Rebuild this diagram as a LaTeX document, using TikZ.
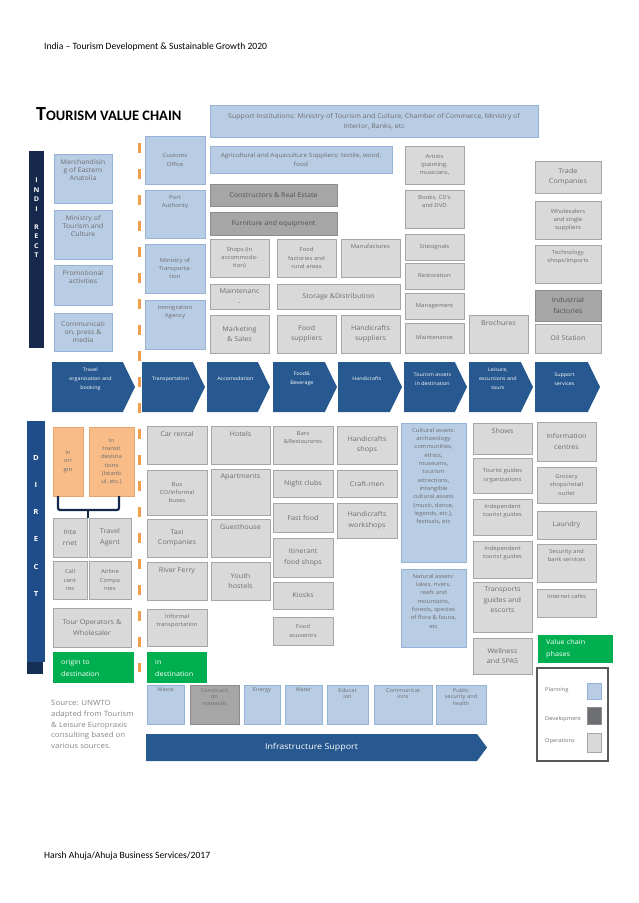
\documentclass[tikz,border=0pt]{standalone}
\usepackage{fontspec}
\setmainfont{Carlito}
\newfontfamily\dgfont[FakeStretch=1.1]{Open Sans}
\usetikzlibrary{shapes.symbols, positioning}

\definecolor{planfill}{HTML}{B8CCE4}
\definecolor{planline}{HTML}{95B3D7}
\definecolor{opfill}{HTML}{D9D9D9}
\definecolor{opline}{HTML}{A6A6A6}
\definecolor{devfill}{HTML}{A6A6A6}
\definecolor{devline}{HTML}{8C8C8C}
\definecolor{devtext}{HTML}{525252}
\definecolor{devswatch}{HTML}{6E6F73}
\definecolor{origfill}{HTML}{F8BC88}
\definecolor{origline}{HTML}{E8A46C}
\definecolor{chevblue}{HTML}{27588F}
\definecolor{indnavy}{HTML}{16294C}
\definecolor{dirblue}{HTML}{1F4D8A}
\definecolor{dirfoot}{HTML}{152F55}
\definecolor{phasegreen}{HTML}{00B050}
\definecolor{dashorange}{HTML}{EE9D4E}
\definecolor{txtgray}{HTML}{6E6E6E}
\definecolor{srcgray}{HTML}{858585}
\definecolor{legline}{HTML}{595959}

\newcommand{\cellfont}{\dgfont\fontsize{5.5}{8.3}\selectfont}
\newcommand{\cellfontw}{\dgfont\fontsize{6.4}{8}\selectfont}
\newcommand{\cellfontm}{\dgfont\fontsize{6.6}{10.5}\selectfont}
\newcommand{\cellfontl}{\dgfont\fontsize{6.5}{9}\selectfont}
\newcommand{\cellfontt}{\dgfont\fontsize{5.2}{6.8}\selectfont}
\newcommand{\chevfont}{\dgfont\fontsize{4.9}{8.8}\selectfont}
\newcommand{\phasefont}{\dgfont\fontsize{6.6}{12}\selectfont}

\begin{document}
\begin{tikzpicture}[x=1pt, y=-1pt,
    cell/.style={draw, anchor=north west, inner sep=0pt, outer sep=0pt, line width=0.7pt, align=center, text=txtgray, font=\cellfont},
    plan/.style={cell, fill=planfill, draw=planline},
    dev/.style={cell, fill=devfill, draw=devline, text=devtext},
    oper/.style={cell, fill=opfill, draw=opline},
    orig/.style={cell, fill=origfill, draw=origline},
    md/.style={font=\cellfontm},
    lg/.style={font=\cellfontl},
    toptext/.style={anchor=north, yshift=-5pt, align=center, inner sep=0pt, text=txtgray, font=\cellfont},
    txt/.style={label={[toptext]north:{#1}}},
    txtw/.style={label={[toptext, font=\cellfontw]north:{#1}}},
    txtm/.style={label={[toptext, font=\cellfontm]north:{#1}}},
    txtt/.style={label={[toptext, yshift=2pt, font=\cellfontt]north:{#1}}},
    chev/.style={signal, signal to=east, signal pointer angle=128, fill=chevblue, anchor=west, minimum height=50pt, inner sep=0pt, outer sep=0pt},
    chevtxt/.style={label={[anchor=center, yshift=-17pt, xshift=3pt, align=center, text=white, font=\chevfont, inner sep=0pt]north:{#1}}},
    bartxt/.style={text=white, align=center, inner sep=0pt, font=\bfseries},
    phase/.style={anchor=north west, fill=phasegreen, text=white, font=\phasefont, align=left, inner xsep=8pt, inner ysep=0pt},
    divider/.style={draw=dashorange, line width=3pt, dash pattern=on 10pt off 16pt},
    bracket/.style={draw=indnavy, line width=2.2pt, rounded corners=2pt}
]
\fill[white] (0,0) rectangle (638,903);
\useasboundingbox (0,0) rectangle (638,903);

% page header, title and footer
\node (head) [anchor=west, inner sep=0pt, font=\fontsize{9.6}{11}\selectfont] at (44,47) {India – Tourism Development \& Sustainable Growth 2020};
\node (title) [anchor=base west, inner sep=0pt, font=\bfseries] at (36,120) {\fontsize{20}{20}\selectfont T\fontsize{14.5}{15}\selectfont OURISM VALUE CHAIN};
\node (foot) [anchor=west, inner sep=0pt, font=\fontsize{9.6}{11}\selectfont] at (44,856) {Harsh Ahuja/Ahuja Business Services/2017};

% indirect side bar
\node (indbar) [fill=indnavy, anchor=north west, minimum width=15, minimum height=197, inner sep=0pt] at (29,151) {};
\node (indtxt) [bartxt, anchor=north, font=\dgfont\bfseries\fontsize{6.5}{9.5}\selectfont] at (36.5,178) {I\\N\\D\\I\\[8.5pt]R\\E\\C\\T};

% orange divider
\coordinate (dtop) at (139,143);
\coordinate (dbot) at (139,672);
\draw[divider] (dtop) -- (dbot);

% indirect: planning column
\node (merch) [plan, minimum width=58, minimum height=49, txtw={Merchandisin\\g of Eastern\\Anatolia}] at (54,154) {};
\node (mintour) [plan, minimum width=58, minimum height=49, txtw={Ministry of\\Tourism and\\Culture}] at (54,210) {};
\node (promo) [plan, minimum width=58, minimum height=40, txtw={Promotional\\activities}] at (54,265) {};
\node (comm) [plan, font=\cellfontw, minimum width=58, minimum height=38] at (54,313) {Communicati\\on, press \&\\media};

\node (customs) [plan, minimum width=60, minimum height=48] at (145,136) {Customs\\Office};
\node (port) [plan, minimum width=60, minimum height=48, txt={Port\\Authority}] at (145,190) {};
\node (mintrans) [plan, minimum width=60, minimum height=49] at (145,244) {Ministry of\\Transporta-\\tion};
\node (immig) [plan, minimum width=60, minimum height=49, txt={Immigration\\Agency}] at (145,300) {};

% suppliers
\node (supinst) [plan, font=\dgfont\fontsize{6.4}{10}\selectfont, minimum width=328, minimum height=32] at (210,105) {Support Institutions: Ministry of Tourism and Culture, Chamber of Commerce, Ministry of\\Interior, Banks, etc};
\node (agri) [plan, font=\dgfont\fontsize{5.9}{9}\selectfont, minimum width=182, minimum height=27] at (210,146) {Agricultural and Aquaculture Suppliers: textile, wood,\\food};
\node (constr) [dev, lg, minimum width=127, minimum height=22] at (210,184) {Constructors \& Real Estate};
\node (furn) [dev, lg, minimum width=127, minimum height=23] at (210,212) {Furniture and equipment};
\node (shops) [oper, minimum width=59, minimum height=38] at (210,239) {Shops (in\\accommoda-\\tion)};
\node (foodfac) [oper, minimum width=59, minimum height=38] at (277,239) {Food\\factories and\\rural areas};
\node (manuf) [oper, minimum width=59, minimum height=38, txt={Manufactures}] at (341,239) {};
\node (maint) [oper, md, minimum width=59, minimum height=25] at (210,284) {Maintenanc\\-};
\node (storage) [oper, lg, minimum width=123, minimum height=25] at (277,284) {Storage \&Distribution};
\node (mkt) [oper, md, minimum width=59, minimum height=38] at (210,315) {Marketing\\\& Sales};
\node (foodsup) [oper, md, minimum width=59, minimum height=38] at (277,315) {Food\\suppliers};
\node (hcsup) [oper, md, minimum width=59, minimum height=38] at (341,315) {Handicrafts\\suppliers};

\node (artists) [oper, minimum width=59, minimum height=38] at (405,146) {Artists\\(painting,\\musicians,};
\node (books) [oper, minimum width=59, minimum height=38, txt={Books, CD's\\and DVD}] at (405,190) {};
\node (sitesig) [oper, minimum width=59, minimum height=26] at (405,234) {Sitesignals};
\node (restor) [oper, minimum width=59, minimum height=26] at (405,263) {Restoration};
\node (mgmt) [oper, minimum width=59, minimum height=26] at (405,293) {Management};
\node (maintc) [oper, minimum width=59, minimum height=30] at (405,323) {Maintenance};
\node (broch) [oper, md, minimum width=59, minimum height=38, txtm={Brochures}] at (469,315) {};

\node (trade) [oper, md, minimum width=66, minimum height=32] at (535,161) {Trade\\Companies};
\node (whole) [oper, minimum width=66, minimum height=38] at (535,201) {Wholesalers\\and single\\suppliers};
\node (tech) [oper, minimum width=66, minimum height=38, txt={Technology\\shops/imports}] at (535,245) {};
\node (indus) [dev, md, minimum width=66, minimum height=31] at (535,290) {Industrial\\factories};
\node (oil) [oper, md, minimum width=66, minimum height=29] at (535,324) {Oil Station};

% value chain phases
\node (cvtravel) [chev, minimum width=83, chevtxt={Travel\\organisation and\\booking}] at (52,387) {};
\node (cvtrans) [chev, minimum width=63, chevtxt={Transportation}] at (142,387) {};
\node (cvaccom) [chev, minimum width=63, chevtxt={Accomodation}] at (207,387) {};
\node (cvfood) [chev, minimum width=64, chevtxt={Food\&\\Beverage}] at (273,387) {};
\node (cvhandi) [chev, minimum width=64, chevtxt={Handicrafts}] at (338,387) {};
\node (cvassets) [chev, minimum width=63, chevtxt={Tourism assets\\in destination}] at (404,387) {};
\node (cvleis) [chev, minimum width=64, chevtxt={Leisure,\\excursions and\\tours}] at (469,387) {};
\node (cvsupp) [chev, minimum width=65, chevtxt={Support\\services}] at (535,387) {};

% direct side bar
\node (dirbar) [fill=dirblue, anchor=north west, minimum width=18, minimum height=241, inner sep=0pt] at (27,421) {};
\node (dirbase) [fill=dirfoot, anchor=north west, minimum width=16, minimum height=12, inner sep=0pt] at (27,662) {};
\node (dirtxt) [bartxt, anchor=north, font=\dgfont\bfseries\fontsize{7}{27.2}\selectfont] at (36,455) {D\\I\\R\\E\\C\\T};

% direct: origin to destination
\node (inorig) [orig, minimum width=30, minimum height=69] at (53,427) {In\\ori\\gin};
\node (intrans) [orig, minimum width=45, minimum height=69] at (89,427) {In\\transit\\destina\\tions\\(Istanb\\ul, etc.)};
\coordinate (brkmid) at (88,510);
\draw[bracket] ([xshift=-10pt]inorig.south) |- (brkmid) -| ([xshift=7.5pt]intrans.south);
\node (inet) [oper, md, minimum width=34, minimum height=39] at (53,518) {Inte\\rnet};
\node (agent) [oper, md, minimum width=42, minimum height=39] at (89,518) {Travel\\Agent};
\draw[bracket] (brkmid) -- (brkmid |- agent.north);
\node (callc) [oper, minimum width=34, minimum height=38] at (53,561) {Call\\cent\\res};
\node (airl) [oper, minimum width=42, minimum height=38] at (89,561) {Airline\\Compa\\nies};
\node (tourop) [oper, md, minimum width=78, minimum height=39] at (53,608) {Tour Operators \&\\Wholesaler};
\node (ph1) [phase, text width=65, minimum height=31] at (53,652) {origin to\\destination};

% direct: in destination
\node (carr) [oper, md, minimum width=60, minimum height=38, txtm={Car rental}] at (147,426) {};
\node (bus) [oper, minimum width=60, minimum height=45] at (147,470) {Bus\\CO/Informal\\buses};
\node (taxi) [oper, md, minimum width=60, minimum height=38] at (147,519) {Taxi\\Companies};
\node (ferry) [oper, md, minimum width=60, minimum height=38, txtm={River Ferry}] at (147,562) {};
\node (informal) [oper, minimum width=60, minimum height=37, txt={Informal\\transportation}] at (147,609) {};
\node (ph2) [phase, text width=44, minimum height=31] at (147,652) {in\\destination};

\node (hotels) [oper, md, minimum width=59, minimum height=38, txtm={Hotels}] at (211,426) {};
\node (apart) [oper, md, minimum width=59, minimum height=46, txtm={Apartments}] at (211,469) {};
\node (guest) [oper, md, minimum width=59, minimum height=38, txtm={Guesthouse}] at (211,519) {};
\node (youth) [oper, md, minimum width=59, minimum height=38] at (211,562) {Youth\\hostels};

\node (bars) [oper, minimum width=60, minimum height=38, txt={Bars\\\&Restaurants}] at (273,426) {};
\node (night) [oper, md, minimum width=60, minimum height=27] at (273,470) {Night clubs};
\node (fast) [oper, md, minimum width=60, minimum height=29] at (273,503) {Fast food};
\node (itin) [oper, md, minimum width=60, minimum height=39] at (273,538) {Itinerant\\food shops};
\node (kiosk) [oper, md, minimum width=60, minimum height=27] at (273,582) {Kiosks};
\node (fsouv) [oper, minimum width=60, minimum height=28] at (273,617) {Food\\souvenirs};

\node (hcshop) [oper, md, minimum width=60, minimum height=38] at (337,426) {Handicrafts\\shops};
\node (craft) [oper, md, minimum width=60, minimum height=27] at (337,470) {Craft-men};
\node (hcwork) [oper, md, minimum width=60, minimum height=35] at (337,503) {Handicrafts\\workshops};

\node (cult) [plan, minimum width=65, minimum height=139, txt={Cultural assets:\\archaeology\\communities,\\ethics,\\museums,\\tourism\\attractions,\\intangible\\cultural assets\\(music, dance,\\legends, etc.),\\festivals, etc}] at (401,423) {};
\node (natur) [plan, minimum width=65, minimum height=78, txt={Natural assets:\\lakes, rivers,\\reefs and\\mountains,\\forests, species\\of flora \& fauna,\\etc}] at (401,569) {};

\node (shows) [oper, md, minimum width=59, minimum height=31, txtm={Shows}] at (473,423) {};
\node (tgorg) [oper, minimum width=59, minimum height=35] at (473,458) {Tourist guides\\organizations};
\node (indep1) [oper, minimum width=59, minimum height=36, txt={Independent\\tourist guides}] at (473,499) {};
\node (indep2) [oper, minimum width=59, minimum height=37, txt={Independent\\tourist guides}] at (473,541) {};
\node (transg) [oper, md, minimum width=59, minimum height=50, txtm={Transports\\guides and\\escorts}] at (473,582) {};
\node (well) [oper, md, minimum width=59, minimum height=36] at (473,638) {Wellness\\and SPAS};

\node (infoc) [oper, md, minimum width=59, minimum height=39] at (537,422) {Information\\centres};
\node (groc) [oper, minimum width=59, minimum height=36] at (537,467) {Grocery\\shops/retail\\outlet};
\node (laund) [oper, md, minimum width=59, minimum height=28] at (537,511) {Laundry};
\node (secur) [oper, minimum width=59, minimum height=38, txt={Security and\\bank services}] at (537,544) {};
\node (inetc) [oper, minimum width=59, minimum height=28, txt={Internet cafes}] at (537,589) {};
\node (ph3) [phase, text width=59, minimum height=28] at (538,635) {Value chain\\phases};

% legend
\node (legend) [draw=legline, line width=1.6pt, fill=white, anchor=north west, minimum width=71, minimum height=93, inner sep=0pt] at (536,667) {};
\node (lgplan) [plan, minimum width=14, minimum height=16] at (587,683) {};
\node (lgdev) [cell, fill=devswatch, draw=devline, minimum width=14, minimum height=17] at (587,707) {};
\node (lgoper) [oper, minimum width=14, minimum height=19] at (587,733) {};
\node (lgplant) [anchor=west, inner sep=0pt, text=txtgray, font=\cellfontt] at (545,690) {Planning};
\node (lgdevt) [anchor=west, inner sep=0pt, text=txtgray, font=\cellfontt] at (545,719) {Development};
\node (lgopert) [anchor=west, inner sep=0pt, text=txtgray, font=\cellfontt] at (545,741) {Operations};

% infrastructure
\node (waste) [plan, minimum width=37, minimum height=39, txtt={Waste}] at (147,685) {};
\node (constm) [dev, minimum width=49, minimum height=39, txtt={Constructi\\on\\materials}] at (190,685) {};
\node (energy) [plan, minimum width=36, minimum height=39, txtt={Energy}] at (244,685) {};
\node (water) [plan, minimum width=37, minimum height=39, txtt={Water}] at (285,685) {};
\node (educ) [plan, minimum width=41, minimum height=39, txtt={Educat\\ion}] at (327,685) {};
\node (commun) [plan, minimum width=58, minimum height=39, txtt={Communicat\\ions}] at (374,685) {};
\node (pubsec) [plan, minimum width=50, minimum height=39, txtt={Public\\security and\\health}] at (436,685) {};
\node (infra) [chev, signal pointer angle=107, minimum width=341, minimum height=27, text=white, font=\dgfont\fontsize{8.1}{9}\selectfont] at (146,747.5) {Infrastructure Support};

\node (source) [anchor=north west, align=left, inner sep=0pt, text=srcgray, font=\dgfont\fontsize{7.2}{10.8}\selectfont] at (51,700) {Source: UNWTO\\adapted from Tourism\\\& Leisure Europraxis\\consulting based on\\various sources.};

\end{tikzpicture}
\end{document}
